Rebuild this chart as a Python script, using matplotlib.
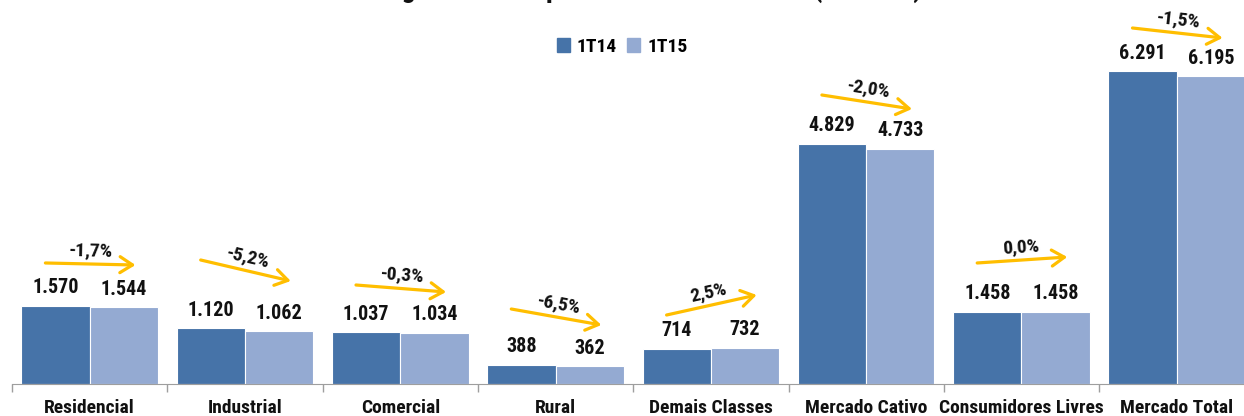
import matplotlib
matplotlib.use("Agg")
import matplotlib.pyplot as plt
import numpy as np
from matplotlib.patches import Patch

# dados do grafico (GWh)
categorias = ["Residencial", "Industrial", "Comercial", "Rural", "Demais Classes",
              "Mercado Cativo", "Consumidores Livres", "Mercado Total"]
v_1t14 = [1570, 1120, 1037, 388, 714, 4829, 1458, 6291]
v_1t15 = [1544, 1062, 1034, 362, 732, 4733, 1458, 6195]
variacao = ["-1,7%", "-5,2%", "-0,3%", "-6,5%", "2,5%", "-2,0%", "0,0%", "-1,5%"]
series = ["1T14", "1T15"]

# alturas das setas amarelas (inicio, fim) na escala do eixo
seta_ini = [2435, 2495, 1992, 1509, 1388, 5815, 2435, 7163]
seta_fim = [2394, 2072, 1851, 1187, 1791, 5533, 2555, 6962]

cor1 = "#4673A8"
cor2 = "#94AAD2"
cor_seta = "#FFBE00"
fonte = ["Roboto Condensed", "Archivo Narrow", "Asap Condensed", "DejaVu Sans"]

plt.rcParams["font.family"] = fonte
plt.rcParams["font.weight"] = "bold"

W, H = 1244, 416
fig = plt.figure(figsize=(W / 100, H / 100), dpi=100)
base_px = 384
escala = 0.0497  # px por GWh
ymax = 7200
ax = fig.add_axes([12 / W, (H - base_px) / H, 8 * 155.3 / W, ymax * escala / H])
ax.set_xlim(-0.5, 7.5)
ax.set_ylim(0, ymax)

x = np.arange(len(categorias))
larg = 0.44
b1 = ax.bar(x - 0.22, v_1t14, larg, color=cor1, edgecolor="white", linewidth=0.8)
b2 = ax.bar(x + 0.22, v_1t15, larg, color=cor2, edgecolor="white", linewidth=0.8)

for barras, vals in [(b1, v_1t14), (b2, v_1t15)]:
    for b, v in zip(barras, vals):
        txt = "{:,}".format(v).replace(",", ".")
        ax.annotate(txt, (b.get_x() + b.get_width() / 2, v), xytext=(0, 18),
                    textcoords="offset pixels", ha="center", va="center",
                    fontsize=14.5, fontweight="bold", color="#111111")

# setas de variacao
for i in range(len(categorias)):
    p0 = (x[i] - 0.285, seta_ini[i])
    p1 = (x[i] + 0.295, seta_fim[i])
    ax.annotate("", xy=p1, xytext=p0, annotation_clip=False,
                arrowprops=dict(arrowstyle="->,head_length=0.5,head_width=0.32",
                                color=cor_seta, lw=2.3, shrinkA=0, shrinkB=0,
                                mutation_scale=18))
    s0 = ax.transData.transform(p0)
    s1 = ax.transData.transform(p1)
    ang = np.degrees(np.arctan2(s1[1] - s0[1], s1[0] - s0[0]))
    mx, my = (p0[0] + p1[0]) / 2, (p0[1] + p1[1]) / 2
    nx, ny = -np.sin(np.radians(ang)) * 13, np.cos(np.radians(ang)) * 13
    ax.annotate(variacao[i], (mx, my), xytext=(nx, ny), textcoords="offset pixels",
                ha="center", va="center", rotation=ang, rotation_mode="anchor",
                fontsize=14, fontweight="bold", color="#111111", annotation_clip=False)

for s in ["top", "left", "right"]:
    ax.spines[s].set_visible(False)
ax.spines["bottom"].set_color("#9E9E9E")
ax.set_yticks([])
ax.set_xticks(x)
ax.set_xticklabels(categorias, fontsize=14, fontweight="bold", color="#111111")
ax.tick_params(axis="x", which="major", length=0, pad=11)
ax.set_xticks(np.arange(-0.5, 8, 1), minor=True)
ax.tick_params(axis="x", which="minor", length=6, color="#9E9E9E", width=1)

fig.legend(handles=[Patch(color=cor1), Patch(color=cor2)], labels=series,
           loc="center", bbox_to_anchor=(622 / W, 1 - 47 / H), ncol=2, frameon=False,
           handlelength=0.7, handleheight=0.7, columnspacing=0.5, handletextpad=0.35,
           prop={"family": fonte, "weight": "bold", "size": 14})

# titulo cortado no topo, como no original
fig.text(637 / W, 1 + 3 / H, "Energia Faturada por Classe de Consumo (em GWh)",
         ha="center", va="baseline", fontsize=20, fontweight="bold", color="#111111")

fig.savefig("out.png", dpi=100)
